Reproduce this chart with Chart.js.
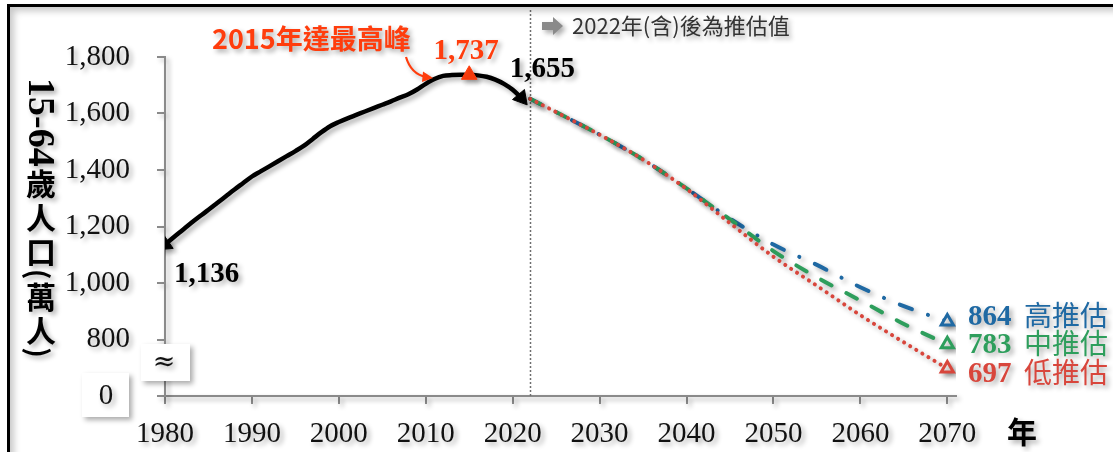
<!DOCTYPE html>
<html><head><meta charset="utf-8">
<script src="https://cdn.jsdelivr.net/npm/chart.js@4.4.1/dist/chart.umd.min.js"></script>
<style>
html,body{margin:0;padding:0;background:#fff;}
#wrap{position:relative;width:1113px;height:452px;overflow:hidden;background:#fff;}
#frame{position:absolute;left:7px;top:4px;width:1200px;height:500px;border-top:3px solid #000;border-left:3px solid #000;box-shadow:inset 4px 4px 7px rgba(0,0,0,0.22);pointer-events:none;}
canvas{position:absolute;left:0;top:0;}
</style></head>
<body><div id="wrap"><canvas id="c" width="1113" height="452" style="width:1113px;height:452px"></canvas><div id="frame"></div></div>
<script>
// ---- data (15-64歲人口, 萬人) ----
const histYears = [1980,1981,1982,1983,1984,1985,1986,1987,1988,1989,1990,1991,1992,1993,1994,1995,1996,1997,1998,1999,2000,2001,2002,2003,2004,2005,2006,2007,2008,2009,2010,2011,2012,2013,2014,2015,2016,2017,2018,2019,2020,2021];
const histValues = [1136,1162,1187,1212,1236,1259,1283,1307,1331,1354,1377,1395,1413,1431,1449,1467,1486,1510,1534,1555,1570,1583,1595,1607,1619,1631,1643,1656,1668,1685,1705,1722,1733,1736,1737,1737,1735,1730,1720,1705,1684,1655];
const projYears = [2022,2025,2030,2035,2040,2045,2050,2055,2060,2065,2070];
const highValues = [1652,1605,1525,1437,1335,1228,1136,1064,985,918,864];
const midValues  = [1652,1605,1525,1437,1335,1225,1113,1020,938,855,783];
const lowValues  = [1652,1605,1525,1437,1333,1212,1093,990,886,790,697];
const seriesNames = ['高推估','中推估','低推估'];
const seriesEndLabels = ['864','783','697'];
const xTicks = [1980,1990,2000,2010,2020,2030,2040,2050,2060,2070];
const yTicks = [600,800,1000,1200,1400,1600,1800];
const yTickLabels = ['', '800','1,000','1,200','1,400','1,600','1,800'];
const xTitle = '年';
const peakYear = 2015, peakLabel = '1,737', peakNote = '2015年達最高峰';
const startLabel = '1,136', lastLabel = '1,655';
const projStartYear = 2022, projNote = '2022年(含)後為推估值';
const yTitle = ['15-64','歲','人','口','(','萬','人',')'];

const BLUE='#1f69a3', GREEN='#2e9e5c', RED='#d8463c', ORANGE='#ff3d0d';
const toXY = (xs, ys) => xs.map((x,i)=>({x, y: ys[i]}));
const lastH = histYears.length-1, lastP = projYears.length-1;

const overlay = {
  id:'overlay',
  beforeDraw(chart){
    const c = chart.ctx;
    c.save();
    c.shadowColor='rgba(0,0,0,0.33)'; c.shadowBlur=5; c.shadowOffsetX=3; c.shadowOffsetY=3;
  },
  beforeDatasetsDraw(chart){
    const c = chart.ctx, xs = chart.scales.x, ys = chart.scales.y;
    const px = Math.round(xs.getPixelForValue(projStartYear))+0.5;
    c.save();
    c.shadowColor='rgba(0,0,0,0)';
    c.strokeStyle='#6f6f6f'; c.lineWidth=1.5; c.setLineDash([2,2]);
    c.beginPath(); c.moveTo(px, 10); c.lineTo(px, ys.bottom); c.stroke();
    c.restore();
  },
  afterDraw(chart){
    const c = chart.ctx, xs = chart.scales.x, ys = chart.scales.y;
    const X = v=>xs.getPixelForValue(v), Y = v=>ys.getPixelForValue(v);
    c.textBaseline='middle';
    // axis break boxes
    c.fillStyle='#fff';
    c.fillRect(141,344,49,37);
    c.fillRect(82,373,47,44);
    c.fillStyle='#111'; c.textAlign='center';
    c.font='27px "DejaVu Serif"'; c.fillText('≈',164,363);
    c.font='29px "Liberation Serif"'; c.fillText('0',106,396);
    // x title
    c.fillStyle='#000'; c.font='bold 30px "Noto Sans CJK TC"';
    c.fillText(xTitle, 1022, 432);
    // y title (vertical)
    let ty = 78; const tx = 41;
    yTitle.forEach(t=>{
      if (/^[\x00-\x7f]+$/.test(t)) {
        c.font = t.length>1 ? 'bold 38px "Liberation Serif"' : 'bold 28px "Noto Sans CJK TC"';
        const w = c.measureText(t).width;
        c.save(); c.translate(tx-2, ty); c.rotate(Math.PI/2);
        c.textAlign='left'; c.fillStyle='#000'; c.fillText(t,0,0); c.restore();
        ty += w;
      } else {
        c.font='bold 30px "Noto Sans CJK TC"'; c.textAlign='center'; c.fillStyle='#000';
        c.fillText(t, tx, ty+17); ty += 34;
      }
    });
    // value labels
    c.font='bold 29px "Liberation Serif"';
    c.fillStyle='#000'; c.textAlign='left';
    c.fillText(startLabel, X(histYears[0])+9, Y(histValues[0])+30);
    c.textAlign='center';
    c.fillText(lastLabel, X(histYears[lastH])+21, Y(histValues[lastH])-28);
    c.fillStyle=ORANGE;
    c.fillText(peakLabel, X(peakYear)-3, Y(histValues[histYears.indexOf(peakYear)])-23);
    c.font='bold 27px "Noto Sans CJK TC"'; c.textAlign='left';
    c.fillText(peakNote, 212, 39);
    // curved arrow
    c.strokeStyle=ORANGE; c.lineWidth=2.2; c.setLineDash([]);
    c.beginPath(); c.moveTo(406,57); c.quadraticCurveTo(411,74,426,77); c.stroke();
    c.beginPath(); c.moveTo(433,78); c.lineTo(423,71.5); c.lineTo(422,82); c.closePath(); c.fill();
    // projection note
    c.fillStyle='#8a8a8a';
    c.beginPath(); c.moveTo(542,22); c.lineTo(553,22); c.lineTo(553,17); c.lineTo(563,26); c.lineTo(553,35); c.lineTo(553,30); c.lineTo(542,30); c.closePath(); c.fill();
    c.fillStyle='#333'; c.font='22px "Noto Sans CJK TC"'; c.textAlign='left';
    c.fillText(projNote, 572, 26);
    // end labels
    const ends=[highValues[lastP], midValues[lastP], lowValues[lastP]];
    const cols=[BLUE,GREEN,RED], dy=[-4,1,6];
    ends.forEach((v,i)=>{
      const y = Y(v)+dy[i];
      c.fillStyle=cols[i];
      c.font='bold 29px "Liberation Serif"'; c.textAlign='left';
      c.fillText(seriesEndLabels[i], 968, y);
      c.font='28px "Noto Sans CJK TC"';
      c.fillText(seriesNames[i], 1024, y-2);
    });
    c.restore();
  }
};

const histColors = histYears.map(y => y===peakYear ? ORANGE : '#000');
const histRadius = histYears.map((y,i) => (i===0 || i===lastH || y===peakYear) ? 9 : 0);
const histRot = histYears.map((y,i) => i===0 ? 235 : (i===lastH ? 140 : 0));
const endRadius = projYears.map((y,i)=> i===lastP ? 7 : 0);

new Chart(document.getElementById('c'), {
  type:'line',
  data:{ datasets:[
    { label:'15-64歲人口', data: toXY(histYears, histValues), borderColor:'#000', borderWidth:4.5,
      tension:0.3, cubicInterpolationMode:'monotone', pointStyle:'triangle',
      pointRadius: histRadius, pointRotation: histRot, pointBackgroundColor: histColors,
      pointBorderColor: histColors, pointBorderWidth:1, order:0 },
    { label:seriesNames[2], data: toXY(projYears, lowValues), borderColor:RED, borderWidth:4,
      borderDash:[0.1,7], borderCapStyle:'round', cubicInterpolationMode:'monotone',
      pointStyle:'triangle', pointRadius:endRadius, pointBackgroundColor:'#fff', pointBorderColor:RED, pointBorderWidth:3, order:1 },
    { label:seriesNames[1], data: toXY(projYears, midValues), borderColor:GREEN, borderWidth:4,
      borderDash:[12,16.6], borderCapStyle:'round', cubicInterpolationMode:'monotone',
      pointStyle:'triangle', pointRadius:endRadius, pointBackgroundColor:'#fff', pointBorderColor:GREEN, pointBorderWidth:3, order:2 },
    { label:seriesNames[0], data: toXY(projYears, highValues), borderColor:BLUE, borderWidth:4,
      borderDash:[13,17,0.1,17], borderCapStyle:'round', cubicInterpolationMode:'monotone',
      pointStyle:'triangle', pointRadius:endRadius, pointBackgroundColor:'#fff', pointBorderColor:BLUE, pointBorderWidth:3, order:3 }
  ]},
  options:{
    responsive:false, animation:false, devicePixelRatio:1,
    layout:{ padding:{ top:57, right:157, bottom:0, left:0 } },
    plugins:{ legend:{display:false}, tooltip:{enabled:false} },
    scales:{
      x:{ type:'linear', min:1980, max:2071,
        afterBuildTicks: s => { s.ticks = xTicks.map(v=>({value:v})); },
        afterFit: s => { s.height = 56; },
        grid:{ drawOnChartArea:false, tickLength:8, color:'#8a8a8a', lineWidth:2 },
        border:{ color:'#8a8a8a', width:2 },
        ticks:{ color:'#111', font:{ family:'"Liberation Serif"', size:29 }, padding:13, maxRotation:0,
          callback: v => String(v) } },
      y:{ type:'linear', min:600, max:1800,
        afterBuildTicks: s => { s.ticks = yTicks.map(v=>({value:v})); },
        afterFit: s => { s.width = 165; },
        grid:{ drawOnChartArea:false, tickLength:8, color:'#8a8a8a', lineWidth:2 },
        border:{ color:'#8a8a8a', width:2 },
        ticks:{ color:'#111', font:{ family:'"Liberation Serif"', size:29 }, padding:27,
          callback: v => yTickLabels[yTicks.indexOf(v)] } }
    }
  },
  plugins:[overlay]
});
</script>
</body></html>
